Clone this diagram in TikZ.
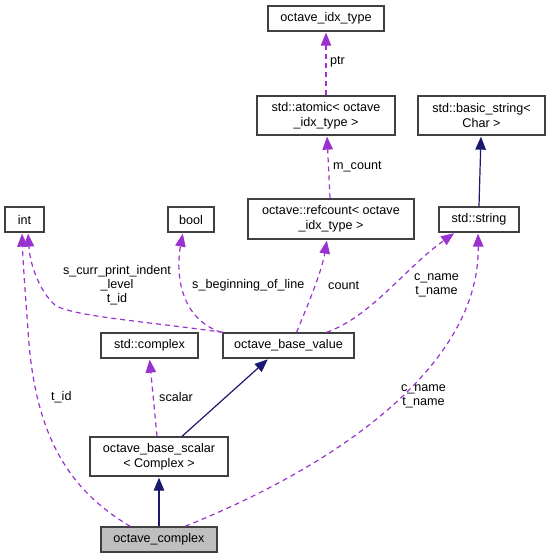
\documentclass[tikz,border=0pt]{standalone}
\usepackage{fontspec}
\setmainfont{Liberation Sans}
\usetikzlibrary{arrows.meta,calc}
\definecolor{edgepurple}{HTML}{9A32CD}
\definecolor{edgenavy}{HTML}{191970}
\definecolor{boxline}{HTML}{404040}
\tikzset{
  cls/.style={draw=boxline, line width=1.3pt, fill=white, inner sep=0pt, align=center,
    font=\fontsize{12.6}{15}\selectfont},
  usage/.style={draw=edgepurple, line width=1.2pt, dash pattern=on 5pt off 4pt,
    -{Triangle[length=13pt,width=10.5pt,fill=edgepurple]}, shorten >=1pt},
  inherit/.style={draw=edgenavy, line width=1.2pt,
    -{Triangle[length=13pt,width=10.5pt,fill=edgenavy]}, shorten >=1pt},
  lbl/.style={inner sep=0pt, align=center, font=\fontsize{12.6}{14}\selectfont},
}
\begin{document}
\begin{tikzpicture}[x=1pt,y=-1pt]
\useasboundingbox (0,0) rectangle (551,559);
% nodes
\node[cls, minimum width=116pt, minimum height=25pt] (idx) at (326,18.5) {octave\_idx\_type};
\node[cls, minimum width=138pt, minimum height=39pt] (atomic) at (326,115.5) {std::atomic< octave\\\_idx\_type >};
\node[cls, minimum width=127pt, minimum height=39pt] (basic) at (481.5,115.5) {std::basic\_string<\\Char >};
\node[cls, minimum width=166pt, minimum height=40pt] (refcount) at (331,219) {octave::refcount< octave\\\_idx\_type >};
\node[cls, minimum width=80pt, minimum height=25pt] (string) at (479,219.5) {std::string};
\node[cls, minimum width=39pt, minimum height=25pt] (int) at (24.5,219.5) {int};
\node[cls, minimum width=46pt, minimum height=25pt] (bool) at (191,219.5) {bool};
\node[cls, minimum width=97pt, minimum height=25pt] (stdcomplex) at (149.5,345.5) {std::complex};
\node[cls, minimum width=131pt, minimum height=25pt] (basevalue) at (288.5,345.5) {octave\_base\_value};
\node[cls, minimum width=138pt, minimum height=39pt] (basescalar) at (159,456.5) {octave\_base\_scalar\\< Complex >};
\node[cls, minimum width=116pt, minimum height=25pt, fill=black!25] (complex) at (159,539.5) {octave\_complex};

% usage edges
\draw[usage] (atomic.north) -- (idx.south);
\node[lbl, anchor=west] (lptr) at (330,62) {ptr};

\draw[usage] ($(refcount.north)+(-1,0)$) -- ($(atomic.south)+(1,0)$);
\node[lbl, anchor=west] (lmcount) at (333,167) {m\_count};

\draw[usage] ($(basevalue.north west)+(1,0)$) .. controls (150,322) and (70,316) .. (55,305)
  .. controls (40,292) and (30,265) .. ($(int.south)+(3.5,0)$);
\node[lbl] (lindent) at (117,285) {s\_curr\_print\_indent\\\_level\\t\_id};

\draw[usage] ($(complex.north west)+(30,0)$) .. controls (65,488) and (34,430) .. (28,330)
  .. controls (25,290) and (23,262) .. ($(int.south)+(-2.5,0)$);
\node[lbl, anchor=west] (ltid) at (51,397) {t\_id};

\draw[usage] ($(basevalue.north west)+(-1,0)$) .. controls (178,318) and (176,270) .. ($(bool.south)+(-8,0)$);
\node[lbl, anchor=west] (lbol) at (192,285) {s\_beginning\_of\_line};

\draw[usage] ($(basevalue.north)+(8,0)$) .. controls (310,300) and (322,270) .. ($(refcount.south)+(-4,0)$);
\node[lbl, anchor=west] (lcount) at (328,285) {count};

\draw[usage] ($(basevalue.north)+(38,0)$) .. controls (372,316) and (405,268) .. ($(string.south)+(-24,0)$);
\node[lbl] (lname1) at (436.5,285.5) {c\_name\\t\_name};

\draw[usage] ($(complex.north)+(26,0)$) .. controls (350,460) and (480,360) .. ($(string.south)+(-1,0)$);
\node[lbl] (lname2) at (423.5,396) {c\_name\\t\_name};

\draw[usage] ($(basescalar.north)+(-2,0)$) -- (stdcomplex.south);
\node[lbl, anchor=west] (lscalar) at (159,397) {scalar};

% inheritance edges
\draw[inherit] (string.north) -- ($(basic.south)+(-0.5,0)$);
\draw[inherit] ($(basescalar.north)+(23,0)$) -- ($(basevalue.south)+(-20,0)$);
\draw[inherit] (complex.north) -- (basescalar.south);
\end{tikzpicture}
\end{document}
